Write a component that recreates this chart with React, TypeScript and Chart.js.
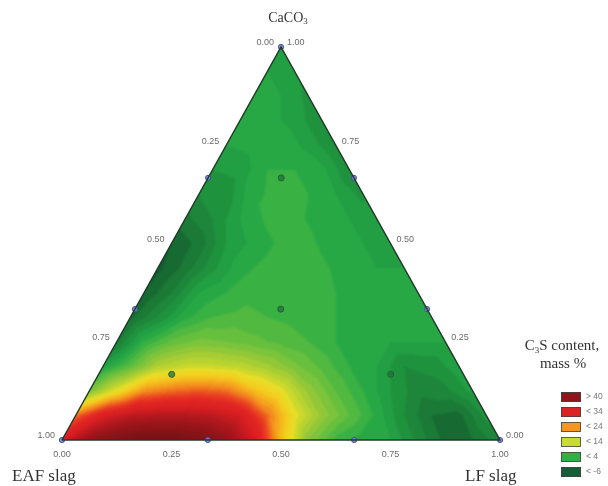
import React, { useEffect, useRef } from "react";
import { Chart, registerables } from "chart.js";

Chart.register(...registerables);

// ---- Field values (C3S content, mass %) on a ternary grid, step 1/16 ----
// row index = CaCO3 share * 16, entry index = LF slag share * 16
const GRID_N = 16;
const row00 = [34, 43, 47, 49, 49, 47, 43, 35, 20, 9, 4, 2, 1.5, -2, -5, -4.5, -2];
const row01 = [25, 33, 37, 38, 38, 37, 34, 25, 16, 10, 6, 2.5, -1.5, -4.5, -5, -1];
const row02 = [8, 16, 23, 25, 26, 25, 20, 16, 10, 6, 3, 0, -2.5, -2, 0.5];
const row03 = [1, 6, 12, 14, 14, 13, 11, 8, 5.5, 3, 1.5, -1.5, -1, 1];
const row04 = [-3.5, 3, 6.5, 8, 7.5, 6.5, 5.5, 4.5, 3, 2, 1.5, 1.5, 1.5];
const row05 = [-5, -1.5, 2.5, 4.5, 5, 4.5, 4, 3.5, 2.5, 2, 1.5, 1.5];
const row06 = [-6, -3, 1.5, 3, 4, 4.5, 4, 3, 2, 1.5, 1.5];
const row07 = [-6.5, -4, -0.5, 2.5, 3.5, 3.8, 3.3, 2.2, 1.5, 1.5];
const row08 = [-6, -4, 0, 2, 3.3, 3.3, 2.2, 1.5, 1.3];
const row09 = [-3.5, -1.5, 1.5, 3.3, 3.3, 2.5, 1.5, 1];
const row10 = [-1.5, -1, 2.8, 3.3, 3, 1.5, -0.5];
const row11 = [0, 0.5, 3, 3, 2, -1.5];
const row12 = [1.5, 2, 2.5, 1, -1.5];
const row13 = [1.5, 2, 1, -1.5];
const row14 = [1.5, 1.5, -0.5];
const row15 = [1.5, 0.5];
const row16 = [1];
const gridRows = [row00, row01, row02, row03, row04, row05, row06, row07, row08,
  row09, row10, row11, row12, row13, row14, row15, row16];

// ---- Experimental compositions (fractions) ----
const edgeEAF = [1, 0, 0, 0.667, 0.333, 0, 0, 0.667, 0.333];
const edgeLF = [0, 1, 0, 0, 0, 0.333, 0.667, 0.333, 0.667];
const edgeCaCO3 = [0, 0, 1, 0.333, 0.667, 0.667, 0.333, 0, 0];
const innerEAF = [0.333, 0.667, 0.167, 0.167];
const innerLF = [0.333, 0.167, 0.667, 0.167];
const innerCaCO3 = [0.333, 0.167, 0.167, 0.667];

// ---- Axis ticks ----
const tickValues = [0, 0.25, 0.5, 0.75, 1];

// ---- Legend ----
const legendLabels = ["> 40", "< 34", "< 24", "< 14", "< 4", "< -6"];
const legendColors = ["#8c1619", "#dc2323", "#f5961e", "#c8dc32", "#32af46", "#145f37"];

// colour ramp (value -> rgb)
const RAMP: number[][] = [
  [-8, 15, 80, 45], [-6.5, 20, 92, 48], [-4.5, 25, 115, 52], [-3, 28, 128, 56],
  [-1.5, 30, 140, 60], [0, 32, 152, 64], [1.5, 35, 165, 70], [3, 45, 172, 68],
  [4.5, 70, 182, 66], [6.5, 100, 190, 62], [8, 120, 195, 60], [10, 150, 200, 55],
  [12, 175, 208, 50], [14, 200, 215, 45], [16, 235, 222, 38], [19, 245, 200, 30],
  [22, 245, 160, 30], [24, 242, 130, 30], [27, 234, 70, 32], [30, 226, 38, 35],
  [34, 215, 30, 33], [38, 180, 24, 30], [42, 150, 20, 25], [46, 132, 18, 22], [50, 115, 15, 20],
];

function rampColor(v: number): number[] {
  if (v <= RAMP[0][0]) return RAMP[0].slice(1);
  for (let k = 1; k < RAMP.length; k++) {
    if (v <= RAMP[k][0]) {
      const a = RAMP[k - 1], b = RAMP[k];
      const t = (v - a[0]) / (b[0] - a[0]);
      return [a[1] + (b[1] - a[1]) * t, a[2] + (b[2] - a[2]) * t, a[3] + (b[3] - a[3]) * t];
    }
  }
  return RAMP[RAMP.length - 1].slice(1);
}

function gridVal(i: number, j: number) {
  return gridRows[i][j];
}

function sampleField(lf: number, c: number): number {
  const u = lf * GRID_N, v = c * GRID_N;
  const i = Math.max(0, Math.min(Math.floor(v), GRID_N - 1));
  let j = Math.min(Math.floor(u), GRID_N - 1 - i);
  if (j < 0) j = 0;
  const fu = u - j, fv = v - i;
  if (fu + fv > 1 && i + j + 2 <= GRID_N) {
    return gridVal(i + 1, j + 1) * (fu + fv - 1) + gridVal(i, j + 1) * (1 - fv) + gridVal(i + 1, j) * (1 - fu);
  }
  return gridVal(i, j) * (1 - fu - fv) + gridVal(i, j + 1) * fu + gridVal(i + 1, j) * fv;
}

const toXY = (lf: number, c: number) => ({ x: lf + c / 2, y: c });

const fieldPlugin = {
  id: "ternaryField",
  beforeDatasetsDraw(chart: any) {
    const { ctx } = chart;
    const xs = chart.scales.x, ys = chart.scales.y;
    const W = chart.width, H = chart.height;
    const left = Math.floor(xs.getPixelForValue(0)) - 3;
    const right = Math.ceil(xs.getPixelForValue(1)) + 3;
    const top = Math.floor(ys.getPixelForValue(1)) - 3;
    const bottom = Math.ceil(ys.getPixelForValue(0)) + 3;
    const off = document.createElement("canvas");
    off.width = W; off.height = H;
    const octx = off.getContext("2d")!;
    const img = octx.createImageData(W, H);
    for (let py = Math.max(0, top); py < Math.min(H, bottom); py++) {
      const cv = ys.getValueForPixel(py + 0.5);
      for (let px = Math.max(0, left); px < Math.min(W, right); px++) {
        const xv = xs.getValueForPixel(px + 0.5);
        let c = cv, lf = xv - cv / 2;
        const eaf = 1 - lf - c;
        if (Math.min(lf, c, eaf) < -0.02) continue;
        if (c < 0) c = 0;
        if (lf < 0) lf = 0;
        if (lf + c > 1) { const s = lf + c; lf /= s; c /= s; }
        const val = sampleField(lf, c);
        const q = Math.floor(val / 1.5) * 1.5 + 0.75;
        const col = rampColor(q);
        const idx = (py * W + px) * 4;
        img.data[idx] = col[0]; img.data[idx + 1] = col[1]; img.data[idx + 2] = col[2]; img.data[idx + 3] = 255;
      }
    }
    octx.putImageData(img, 0, 0);
    const A = [xs.getPixelForValue(0), ys.getPixelForValue(0)];
    const B = [xs.getPixelForValue(0.5), ys.getPixelForValue(1)];
    const C = [xs.getPixelForValue(1), ys.getPixelForValue(0)];
    ctx.save();
    ctx.beginPath();
    ctx.moveTo(A[0], A[1]); ctx.lineTo(B[0], B[1]); ctx.lineTo(C[0], C[1]); ctx.closePath();
    ctx.clip();
    ctx.filter = "blur(1px)";
    ctx.drawImage(off, 0, 0);
    ctx.restore();
  },
  afterDraw(chart: any) {
    const { ctx } = chart;
    const xs = chart.scales.x, ys = chart.scales.y;
    const P = (x: number, y: number) => [xs.getPixelForValue(x), ys.getPixelForValue(y)];
    ctx.save();
    // tick labels
    ctx.font = "9px 'Liberation Sans', Arial, sans-serif";
    ctx.fillStyle = "#6a6a6a";
    ctx.textBaseline = "middle";
    tickValues.forEach((t) => {
      const lab = t.toFixed(2);
      // left edge: EAF slag share
      const cl = 1 - t;
      const pl = P(cl / 2, cl);
      ctx.textAlign = "right";
      ctx.fillText(lab, pl[0] - 7, pl[1] - 4);
      // right edge: CaCO3 share
      const pr = P(1 - t / 2, t);
      ctx.textAlign = "left";
      ctx.fillText(lab, pr[0] + 6, pr[1] - 4);
      // bottom: LF slag share
      const pb = P(t, 0);
      ctx.textAlign = "center";
      ctx.fillText(lab, pb[0], pb[1] + 15);
    });
    // vertex labels
    ctx.fillStyle = "#333";
    ctx.textBaseline = "alphabetic";
    ctx.font = "17px 'Liberation Serif', 'Times New Roman', serif";
    ctx.textAlign = "left";
    ctx.fillText("EAF slag", 12, 481);
    ctx.fillText("LF slag", 465, 481);
    ctx.font = "14px 'Liberation Serif', 'Times New Roman', serif";
    const wCa = ctx.measureText("CaCO").width;
    ctx.font = "9px 'Liberation Serif', 'Times New Roman', serif";
    const w3 = ctx.measureText("3").width;
    const cx = 288 - (wCa + w3) / 2;
    ctx.font = "14px 'Liberation Serif', 'Times New Roman', serif";
    ctx.fillText("CaCO", cx, 22);
    ctx.font = "9px 'Liberation Serif', 'Times New Roman', serif";
    ctx.fillText("3", cx + wCa, 24);
    // legend title
    ctx.font = "15px 'Liberation Serif', 'Times New Roman', serif";
    const t1 = "C", t2 = "S content,";
    const w1 = ctx.measureText(t1).width, w2 = ctx.measureText(t2).width;
    ctx.font = "9px 'Liberation Serif', 'Times New Roman', serif";
    const ws = ctx.measureText("3").width;
    const lx = 562 - (w1 + ws + w2) / 2;
    ctx.font = "15px 'Liberation Serif', 'Times New Roman', serif";
    ctx.fillText(t1, lx, 350);
    ctx.font = "9px 'Liberation Serif', 'Times New Roman', serif";
    ctx.fillText("3", lx + w1, 353);
    ctx.font = "15px 'Liberation Serif', 'Times New Roman', serif";
    ctx.fillText(t2, lx + w1 + ws, 350);
    ctx.textAlign = "center";
    ctx.fillText("mass %", 563, 368);
    // legend boxes
    legendLabels.forEach((lab, k) => {
      const by = 392 + k * 15;
      ctx.fillStyle = legendColors[k];
      ctx.fillRect(561, by, 20, 10);
      ctx.strokeStyle = "#444";
      ctx.lineWidth = 0.8;
      ctx.strokeRect(561.5, by + 0.5, 19, 9);
      ctx.fillStyle = "#777";
      ctx.font = "8.5px 'Liberation Sans', Arial, sans-serif";
      ctx.textAlign = "left";
      ctx.textBaseline = "middle";
      ctx.fillText(lab, 586, by + 5);
      ctx.textBaseline = "alphabetic";
    });
    ctx.restore();
  },
};

export default function App() {
  const ref = useRef<HTMLCanvasElement | null>(null);
  useEffect(() => {
    if (!ref.current) return;
    const outline = [toXY(0, 0), toXY(0, 1), toXY(1, 0), toXY(0, 0)];
    const edgePts = edgeEAF.map((_, k) => toXY(edgeLF[k], edgeCaCO3[k]));
    const innerPts = innerEAF.map((_, k) => toXY(innerLF[k], innerCaCO3[k]));
    const xmin = -62 / 438, xmax = xmin + 608 / 438;
    const ymin = -46 / 393, ymax = 440 / 393;
    const chart = new Chart(ref.current, {
      type: "scatter",
      data: {
        datasets: [
          {
            data: outline, showLine: true, borderColor: "#1f3a28", borderWidth: 1.5,
            pointRadius: 0, fill: false,
          } as any,
          {
            data: edgePts, pointRadius: 2.6, backgroundColor: "rgba(120,132,205,0.9)",
            borderColor: "#44529e", borderWidth: 1,
          },
          {
            data: innerPts, pointRadius: 3, backgroundColor: "rgba(30,115,58,0.75)",
            borderColor: "#245f38", borderWidth: 1,
          },
        ],
      },
      options: {
        animation: false,
        responsive: false,
        devicePixelRatio: 1,
        layout: { padding: 0, autoPadding: false },
        plugins: { legend: { display: false }, tooltip: { enabled: false } },
        scales: {
          x: { type: "linear", min: xmin, max: xmax, display: false },
          y: { type: "linear", min: ymin, max: ymax, display: false },
        },
      },
      plugins: [fieldPlugin],
    });
    return () => chart.destroy();
  }, []);
  return (
    <div style={{ position: "absolute", left: 0, top: 0, width: 608, height: 486, background: "#fff" }}>
      <canvas ref={ref} width={608} height={486} style={{ display: "block" }} />
    </div>
  );
}
